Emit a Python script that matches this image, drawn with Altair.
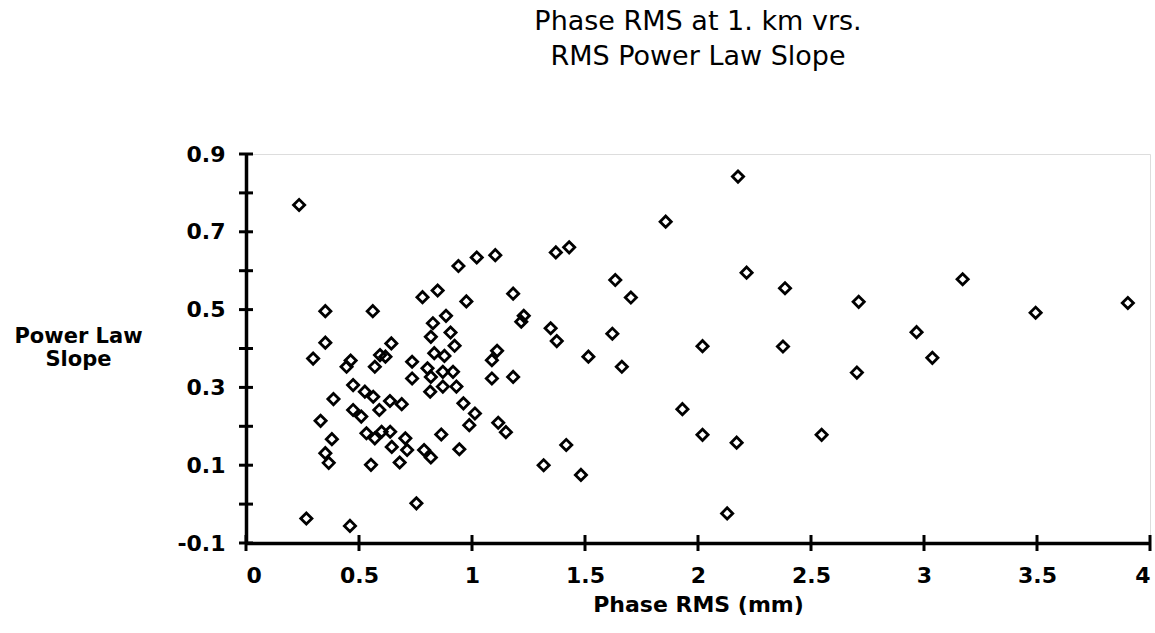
import altair as alt
import pandas as pd

phase_rms = [
    0.235, 0.940, 1.021, 1.103, 0.781, 0.848, 0.975, 1.182, 1.229, 1.218,
    0.351, 0.561, 0.351, 0.885, 0.827, 0.905, 0.818, 0.643, 0.923, 1.111,
    0.833, 0.878, 0.297, 0.463, 0.445, 0.617, 0.593, 0.570, 0.735, 0.803,
    0.871, 0.916, 1.088, 1.088, 1.182, 0.735, 0.818, 0.871, 0.931, 0.815,
    0.474, 0.526, 0.563, 0.387, 0.637, 0.689, 0.590, 0.474, 0.510, 0.962,
    1.013, 0.988, 0.330, 0.380, 0.351, 0.366, 0.533, 0.570, 0.600, 0.638,
    0.705, 0.645, 0.713, 0.788, 0.818, 0.680, 0.553, 0.864, 0.944, 1.116,
    1.150, 0.754, 0.267, 0.460,
    2.177, 1.857, 1.371, 1.430, 2.215, 2.385, 1.634, 1.703, 1.348, 1.375,
    1.621, 2.020, 2.376, 1.515, 1.663, 1.931, 2.020, 2.171, 1.417, 1.317,
    1.482, 2.129,
    2.711, 3.171, 2.967, 3.037, 2.703, 2.547, 3.494, 3.902,
]
slope = [
    0.769, 0.612, 0.634, 0.640, 0.532, 0.549, 0.521, 0.541, 0.484, 0.469,
    0.496, 0.496, 0.415, 0.484, 0.465, 0.441, 0.430, 0.413, 0.407, 0.394,
    0.388, 0.381, 0.374, 0.369, 0.353, 0.379, 0.383, 0.353, 0.366, 0.349,
    0.340, 0.340, 0.370, 0.323, 0.327, 0.323, 0.327, 0.302, 0.302, 0.289,
    0.306, 0.289, 0.276, 0.270, 0.265, 0.257, 0.242, 0.242, 0.225, 0.259,
    0.233, 0.203, 0.214, 0.167, 0.131, 0.106, 0.182, 0.169, 0.186, 0.186,
    0.169, 0.147, 0.139, 0.139, 0.120, 0.107, 0.101, 0.179, 0.141, 0.209,
    0.185, 0.002, -0.037, -0.056,
    0.842, 0.726, 0.647, 0.660, 0.595, 0.555, 0.576, 0.531, 0.452, 0.419,
    0.438, 0.406, 0.405, 0.379, 0.353, 0.244, 0.178, 0.158, 0.152, 0.100,
    0.075, -0.024,
    0.520, 0.578, 0.442, 0.376, 0.338, 0.178, 0.492, 0.517,
]
x_ticks = [0, 0.5, 1, 1.5, 2, 2.5, 3, 3.5, 4]
y_ticks = [-0.1, 0.0, 0.1, 0.2, 0.3, 0.4, 0.5, 0.6, 0.7, 0.8, 0.9]
title_lines = ["Phase RMS at 1. km  vrs.", "RMS Power Law Slope"]
x_title = "Phase RMS (mm)"
y_title = ["Power Law", "Slope"]

df = pd.DataFrame({"rms": phase_rms, "slope": slope})
df_xt = pd.DataFrame({"rms": x_ticks, "slope": [-0.1] * len(x_ticks)})
df_yt = pd.DataFrame({"rms": [0.0] * len(y_ticks), "slope": y_ticks})

FONT = "DejaVu Sans"

X = alt.X("rms:Q",
          scale=alt.Scale(domain=[0, 4], nice=False, zero=False),
          axis=alt.Axis(values=x_ticks, format=".1~f", title=x_title,
                        grid=False, domainWidth=3.5, domainColor="black",
                        ticks=False, tickSize=0,
                        labelFont=FONT, labelFontSize=22, labelFontWeight="bold",
                        labelColor="black", labelPadding=22,
                        titleFont=FONT, titleFontSize=22, titleFontWeight="bold",
                        titleColor="black", titlePadding=8))
Y = alt.Y("slope:Q",
          scale=alt.Scale(domain=[-0.1, 0.9], nice=False, zero=False),
          axis=alt.Axis(values=y_ticks,
                        labelExpr="(abs(datum.value*10 - round(datum.value*10)) < 0.01 && abs(round(datum.value*10)) % 2 == 1) ? ((datum.value < 0 ? '-' : '') + format(abs(datum.value), '.1f')) : ''",
                        title=y_title, titleAngle=0,
                        titleAlign="center", titleBaseline="top",
                        titleX=-168, titleY=171, titleLineHeight=23,
                        grid=False, domainWidth=3.5, domainColor="black",
                        ticks=False, tickSize=0,
                        labelFont=FONT, labelFontSize=22, labelFontWeight="bold",
                        labelColor="black", labelPadding=21,
                        titleFont=FONT, titleFontSize=21, titleFontWeight="bold",
                        titleColor="black"))

points = alt.Chart(df).mark_point(
    shape="diamond", filled=False, stroke="black", strokeWidth=2.8, size=125, opacity=1
).encode(x=X, y=Y)

xticks = alt.Chart(df_xt).mark_tick(
    orient="vertical", size=16, thickness=3, color="black", opacity=1
).encode(x=X, y=Y)

yticks = alt.Chart(df_yt).mark_tick(
    orient="horizontal", size=14, thickness=3, color="black", opacity=1
).encode(x=X, y=Y)

chart = alt.layer(points, xticks, yticks).properties(
    width=904,
    height=389,
    autosize=alt.AutoSizeParams(type="none"),
    padding={"left": 246, "top": 154, "right": 5, "bottom": 90},
    title=alt.TitleParams(text=title_lines, font=FONT, fontSize=27,
                          fontWeight="normal", color="black", anchor="middle",
                          lineHeight=35, offset=72),
).configure_view(stroke=None).configure(background="white")

chart.save("out.html", embed_options={"renderer": "svg", "actions": False})
